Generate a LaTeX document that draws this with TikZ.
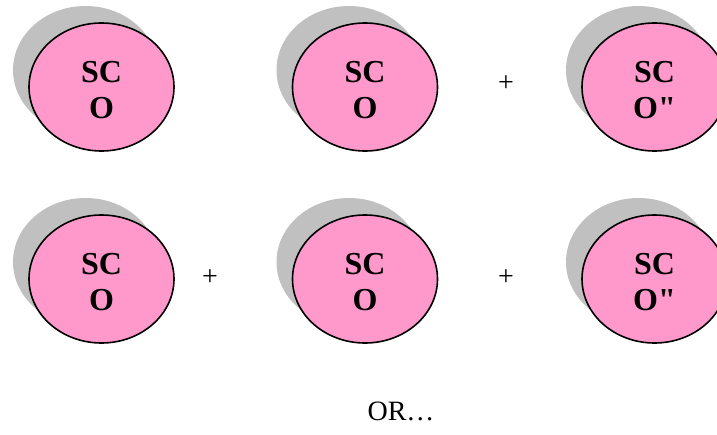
\documentclass[tikz,border=0pt]{standalone}
\usepackage{fontspec}
\setmainfont{Liberation Serif}[Ligatures=TeXOff]
\usetikzlibrary{shapes.geometric,shadows}
\definecolor{scopink}{HTML}{FF99CC}
\definecolor{scogray}{HTML}{C0C0C0}
\begin{document}
\begin{tikzpicture}[x=0.75pt,y=-0.75pt,
  sco/.style={ellipse,draw=black,line width=1.2pt,fill=scopink,
    minimum width=108.75pt,minimum height=96pt,inner sep=0pt,
    align=center,font=\fontsize{24}{26.5}\selectfont\bfseries,text height=47pt,
    general shadow={fill=scogray,draw=none,shadow xshift=-12pt,shadow yshift=12.75pt}},
  op/.style={font=\fontsize{21}{24}\selectfont}]
\useasboundingbox (0,0) rectangle (717,435);
\clip (0,0) rectangle (717,435);
\path node[sco] (A1) at (101.5,87) {SC\\O}
node[sco] (B1) at (365,87) {SC\\O}
node[op] (P1) at (506,84) {+}
node[sco] (C1) at (654.5,87) {SC\\O"}
node[sco] (A2) at (101.5,279) {SC\\O}
node[op] (P2) at (210,278) {+}
node[sco] (B2) at (365,279) {SC\\O}
node[op] (P3) at (506,278) {+}
node[sco] (C2) at (654.5,279) {SC\\O"}
node[op] (OR) at (401,411) {OR…}
;
\end{tikzpicture}
\end{document}
